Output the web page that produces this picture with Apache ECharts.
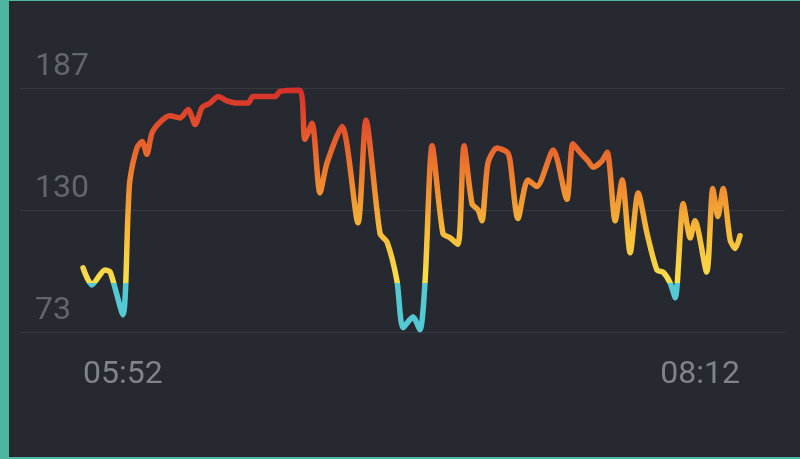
<!DOCTYPE html>
<html>
<head>
<meta charset="utf-8">
<script src="https://cdn.jsdelivr.net/npm/echarts@6/dist/echarts.min.js"></script>
<style>
html,body{margin:0;padding:0;background:#262930;}
#wrap{width:791px;height:456px;border-left:9px solid #4db6a0;border-top:1px solid #4db6a0;border-bottom:2px solid #4db6a0;background:#262930;}
#chart{width:791px;height:456px;}
</style>
</head>
<body>
<div id="wrap"><div id="chart"></div></div>
<script>
// minutes after 05:52
var timeMinutes = [0, 1.9, 4.7, 5.8, 8.5, 9.6, 10.0, 11.5, 12.6, 13.6, 14.7, 16.4, 18.5, 20.7, 22.4, 23.9, 25.4, 27.1, 28.8, 30.7,
  32.8, 35.2, 36.2, 40.9, 42.0, 46.2, 47.3, 48.8, 50.5, 52.0, 55.2, 58.6, 60.3, 63.3, 64.8, 66.9, 68.2, 70.3, 71.8, 72.9,
  74.4, 76.7, 78.2, 79.9, 81.2, 82.9, 84.2, 85.0, 86.3, 88.2, 90.4, 91.0, 92.7, 94.8, 96.7, 100.2, 103.1, 104.4, 105.9, 107.6,
  108.7, 110.6, 111.7, 113.4, 114.9, 116.6, 118.3, 120.2, 122.3, 123.6, 125.1, 126.2, 127.9, 129.4, 130.4, 132.9, 134.2, 135.3, 136.4, 137.9,
  139.0, 140];
var heartRate = [103, 95, 102, 101, 81, 129, 144, 159, 162, 156, 166, 171, 174, 173, 177, 170, 178, 180, 183, 181,
  180, 180, 183, 183, 185.5, 186, 163, 170.5, 138, 152, 169, 124, 172, 119, 115, 97, 75, 80, 74, 97,
  160, 119, 117, 114, 160, 133, 130, 125, 152, 159, 157, 153, 126, 144, 141, 158, 135, 161, 157, 153,
  150, 153, 157, 125, 144, 110, 138, 119, 102, 101, 96, 89, 133, 117, 125, 101, 140, 127, 140, 116,
  112, 118];
var yTicks = [73, 130, 187];
var xTickMinutes = [0, 140];
var xTickLabels = ['05:52', '08:12'];

var data = timeMinutes.map(function (t, i) { return [t, heartRate[i]]; });
var fontFam = 'Roboto, sans-serif';

var chart = echarts.init(document.getElementById('chart'), null, {renderer: 'canvas'});
chart.setOption({
  backgroundColor: '#262930',
  animation: false,
  grid: [
    {left: 11, right: 15, top: 87, bottom: 125},
    {left: 74, right: 60, top: 87, bottom: 125}
  ],
  xAxis: [
    {gridIndex: 0, type: 'value', min: 0, max: 1, show: false},
    {gridIndex: 1, type: 'value', min: xTickMinutes[0], max: xTickMinutes[1], interval: xTickMinutes[1] - xTickMinutes[0],
      axisLine: {show: false}, axisTick: {show: false}, splitLine: {show: false},
      axisLabel: {
        margin: 27, color: '#7f838b', fontSize: 32, fontFamily: fontFam,
        alignMinLabel: 'left', alignMaxLabel: 'right',
        formatter: function (v) { var k = xTickMinutes.indexOf(v); return k >= 0 ? xTickLabels[k] : ''; }
      }
    }
  ],
  yAxis: [
    {gridIndex: 0, type: 'value', min: yTicks[0], max: yTicks[2], interval: yTicks[1] - yTicks[0],
      axisLine: {show: false}, axisTick: {show: false},
      splitLine: {show: true, showMinLine: true, showMaxLine: true, lineStyle: {color: '#363940', width: 1}},
      axisLabel: {inside: true, margin: 15, align: 'left', verticalAlign: 'bottom', lineHeight: 42,
        color: '#62666e', fontSize: 32, fontFamily: fontFam}
    },
    {gridIndex: 1, type: 'value', min: yTicks[0], max: yTicks[2], show: false}
  ],
  visualMap: {
    show: false, type: 'continuous', seriesIndex: 0, dimension: 1,
    min: 73, max: 187, range: [96, 187],
    inRange: {color: ['#f9e04a', '#f9e04a', '#f7bd3a', '#f08a30', '#e65a2c', '#d4302a']},
    outOfRange: {color: '#55c9d3'}
  },
  series: [{
    type: 'line', xAxisIndex: 1, yAxisIndex: 1, data: data,
    smooth: 0.25, showSymbol: false, symbol: 'none',
    lineStyle: {width: 5.5, cap: 'round', join: 'round'}
  }]
});
</script>
</body>
</html>
